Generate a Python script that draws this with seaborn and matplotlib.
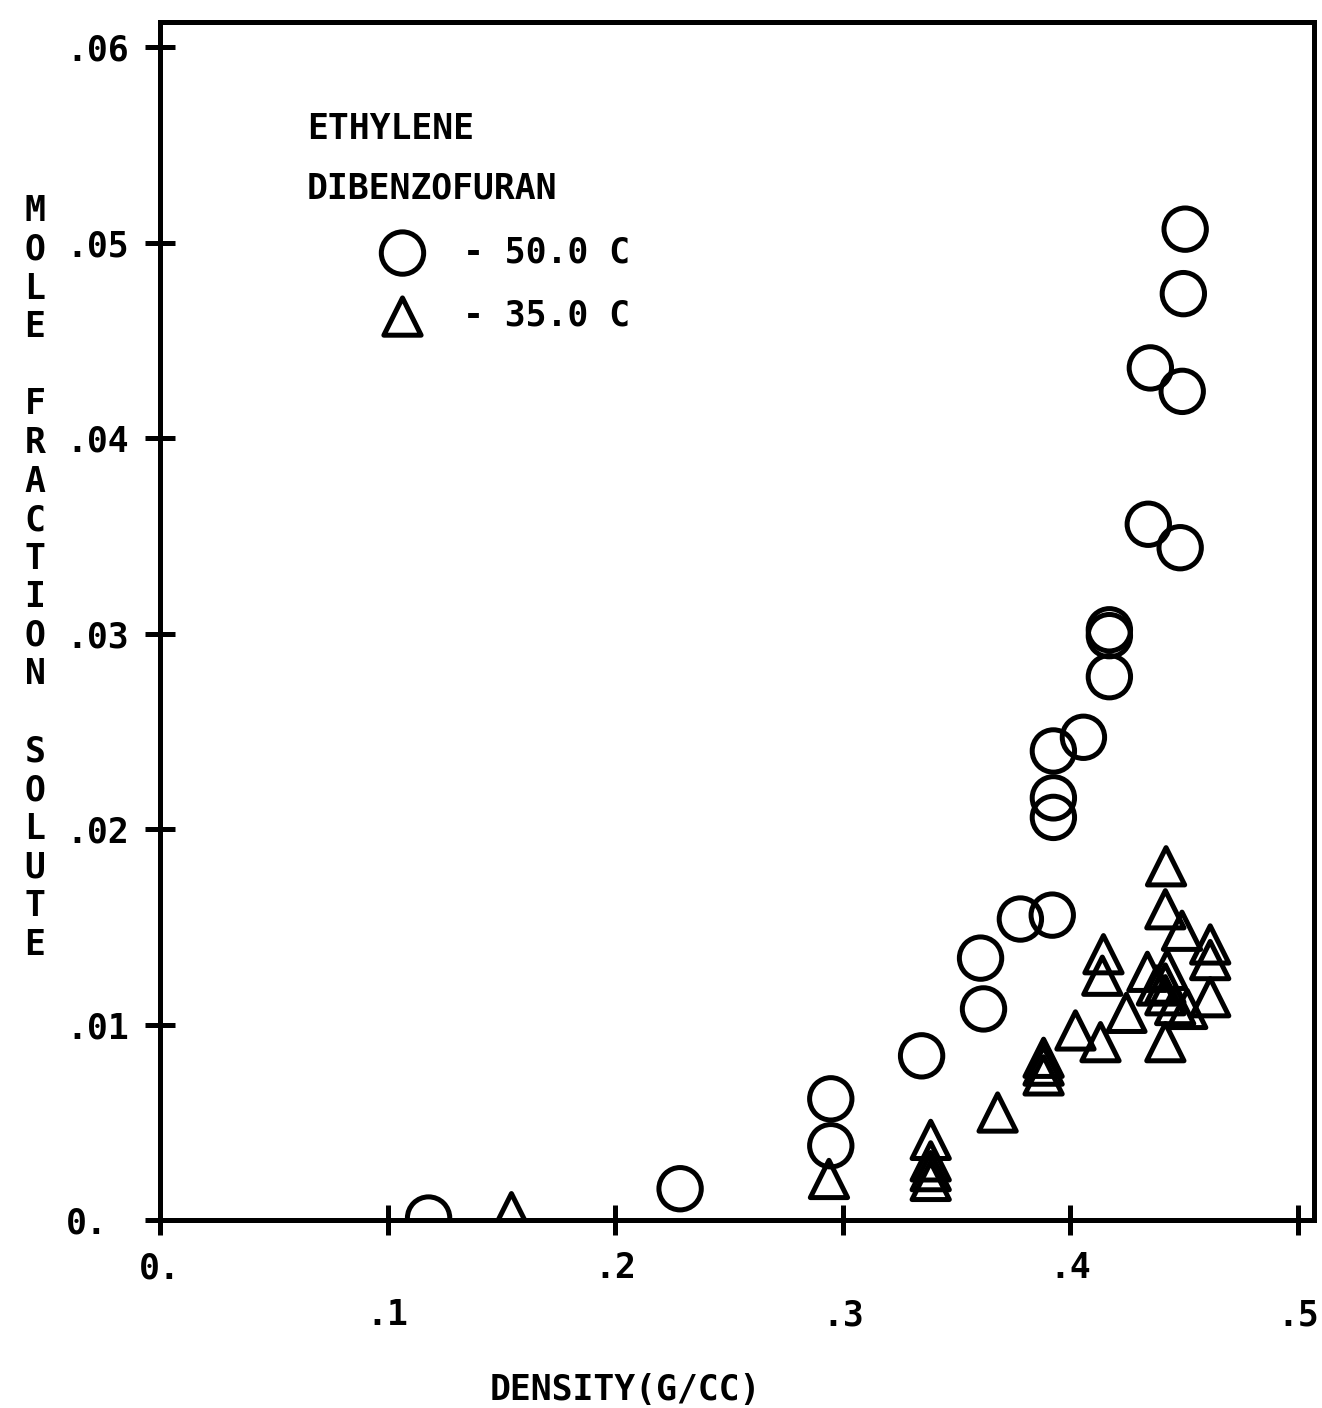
import numpy as np
import pandas as pd
import matplotlib
matplotlib.use("Agg")
import matplotlib.pyplot as plt
import seaborn as sns

# ---- data ----
circle_density = [0.118, 0.2285, 0.2947, 0.2947, 0.3346, 0.3605, 0.3618, 0.378,
                  0.392, 0.3925, 0.3925, 0.3925, 0.4057, 0.4171, 0.4171, 0.4171,
                  0.4351, 0.4342, 0.4504, 0.4496, 0.4491, 0.4482]
circle_fraction = [0.0001, 0.0016, 0.0062, 0.0038, 0.0084, 0.0134, 0.0108, 0.0154,
                   0.0156, 0.0240, 0.0216, 0.0206, 0.0247, 0.0302, 0.0299, 0.0278,
                   0.0436, 0.0356, 0.0507, 0.0474, 0.0424, 0.0344]

tri_density = [0.1544, 0.2939, 0.3386, 0.3386, 0.3386, 0.3386, 0.3680, 0.3882,
               0.3882, 0.3882, 0.4022, 0.4132, 0.4145, 0.4140, 0.4246, 0.4338,
               0.4420, 0.4417, 0.4490, 0.4425, 0.4417, 0.4417, 0.4417, 0.4513,
               0.4614, 0.4614, 0.4614, 0.4380, 0.4460]
tri_fraction = [0.0004, 0.0021, 0.0041, 0.0030, 0.0025, 0.0020, 0.0055, 0.0083,
                0.0079, 0.0074, 0.0097, 0.0091, 0.0136, 0.0125, 0.0106, 0.0127,
                0.0181, 0.0159, 0.0148, 0.0128, 0.0121, 0.0115, 0.0091, 0.0108,
                0.0141, 0.0133, 0.0114, 0.0120, 0.0110]

series_labels = ["- 50.0 C", "- 35.0 C"]
legend_title = "ETHYLENE\nDIBENZOFURAN"

xtick_values = [0.0, 0.1, 0.2, 0.3, 0.4, 0.5]
xtick_labels = ["0.", ".1", ".2", ".3", ".4", ".5"]
ytick_values = [0.0, 0.01, 0.02, 0.03, 0.04, 0.05, 0.06]
ytick_labels = ["0.", ".01", ".02", ".03", ".04", ".05", ".06"]

x_label = "DENSITY(G/CC)"
y_label = "MOLE FRACTION SOLUTE"

# ---- style ----
sns.set_style("white")
plt.rcParams['font.family'] = ['DejaVu Sans Mono', 'DejaVu Sans']
plt.rcParams['font.weight'] = 'bold'
plt.rcParams['text.color'] = 'black'
plt.rcParams['axes.labelcolor'] = 'black'
FS = 25
LW = 3.6

W_PX, H_PX = 1322, 1408
fig = plt.figure(figsize=(W_PX / 100, H_PX / 100), dpi=100)
ax_l, ax_r, ax_t, ax_b = 160, 1314, 22, 1220
ax = fig.add_axes([ax_l / W_PX, 1 - ax_b / H_PX, (ax_r - ax_l) / W_PX, (ax_b - ax_t) / H_PX])

df50 = pd.DataFrame({"density": circle_density, "fraction": circle_fraction})
df35 = pd.DataFrame({"density": tri_density, "fraction": tri_fraction})

sns.scatterplot(data=df50, x="density", y="fraction", marker="o", s=930,
                facecolors="none", edgecolor="black", linewidth=LW,
                label=series_labels[0], ax=ax, zorder=3)
sns.scatterplot(data=df35, x="density", y="fraction", marker="^", s=720,
                facecolors="none", edgecolor="black", linewidth=LW,
                label=series_labels[1], ax=ax, zorder=3)

ax.set_xlim(0, 0.507)
ax.set_ylim(0, 0.0613)
ax.set_xticks(xtick_values, labels=xtick_labels)
ax.set_yticks(ytick_values, labels=ytick_labels)
ax.tick_params(direction="inout", length=21, width=LW, color="black",
               labelsize=FS, labelcolor="black", bottom=True, left=True)
ax.tick_params(axis="x", pad=12)
ax.tick_params(axis="y", pad=57)
for i, t in enumerate(ax.xaxis.get_major_ticks()):
    if i % 2 == 1:
        t.set_pad(46)
for lab in ax.get_yticklabels():
    lab.set_horizontalalignment("left")

for sp in ax.spines.values():
    sp.set_visible(True)
    sp.set_color("black")
    sp.set_linewidth(LW)
    sp.set_zorder(4)

ax.set_xlabel(x_label, fontsize=FS, fontweight="bold", color="black")
ax.xaxis.set_label_coords((625 - ax_l) / (ax_r - ax_l), (ax_b - 1390) / (ax_b - ax_t))
ax.xaxis.label.set_va("center")

stacked = "\n".join(" " if c == " " else c for c in y_label)
ax.set_ylabel(stacked, fontsize=FS, fontweight="bold", rotation=0, color="black",
              ha="center", va="center", linespacing=1.17)
ax.yaxis.set_label_coords((35 - ax_l) / (ax_r - ax_l), (ax_b - 578) / (ax_b - ax_t))

leg = ax.legend(loc="upper left", bbox_to_anchor=(307 / W_PX, 1 - 112 / H_PX),
                bbox_transform=fig.transFigure, frameon=False, fontsize=FS,
                title=legend_title, title_fontsize=FS, alignment="left",
                handlelength=5.5, handletextpad=-1.0, labelspacing=0.85,
                borderpad=0, borderaxespad=0, scatterpoints=1)
leg.get_title().set_linespacing(1.95)
leg.get_title().set_fontweight("bold")
leg.get_title().set_color("black")
for txt in leg.get_texts():
    txt.set_color("black")

fig.savefig("out.png", dpi=100)
